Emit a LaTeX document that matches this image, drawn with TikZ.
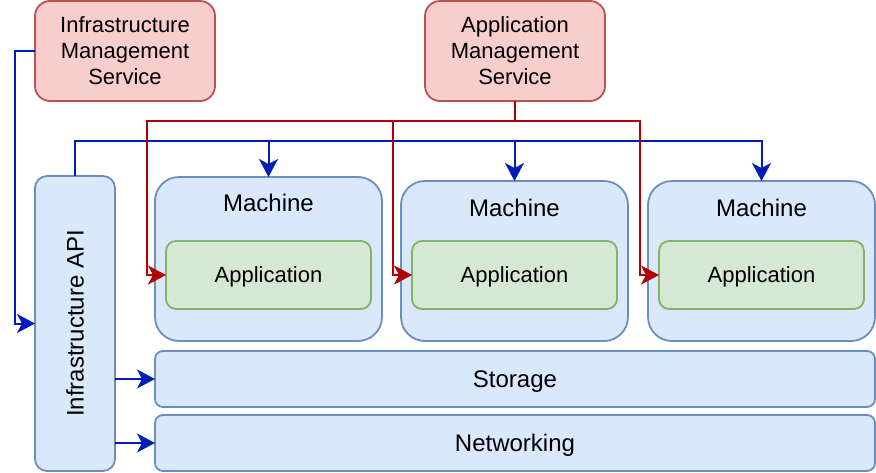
\documentclass[tikz,border=0pt]{standalone}
\usepackage{fontspec}
\setmainfont{Liberation Sans}
\usetikzlibrary{arrows.meta,calc}
\definecolor{bfill}{HTML}{DAE8FC}
\definecolor{bline}{HTML}{6C8EBF}
\definecolor{gfill}{HTML}{D5E8D4}
\definecolor{gline}{HTML}{82B366}
\definecolor{rfill}{HTML}{F8CECC}
\definecolor{rline}{HTML}{B85450}
\definecolor{barr}{HTML}{001DBC}
\definecolor{rarr}{HTML}{B20000}
\tikzset{
  base/.style={rectangle, line width=1.8pt, outer sep=0pt, inner sep=0pt, align=center, text=black},
  mgmt/.style={base, draw=rline, fill=rfill, rounded corners=15pt, minimum width=180pt, minimum height=100pt, font=\fontsize{22}{26}\selectfont},
  machinebox/.style={base, draw=bline, fill=bfill, rounded corners=24pt, minimum width=227pt},
  appbox/.style={base, draw=gline, fill=gfill, rounded corners=10pt, minimum width=205pt, minimum height=68pt, font=\fontsize{22}{26}\selectfont, text height=19.9pt, text depth=4.66pt},
  widebox/.style={base, draw=bline, fill=bfill, rounded corners=8pt, minimum width=720pt, minimum height=56pt, font=\fontsize{24}{28}\selectfont, text height=21.7pt, text depth=5.1pt},
  bigtext/.style={inner sep=0pt, font=\fontsize{24}{28}\selectfont, text=black},
  bluearr/.style={draw=barr, line width=2pt, -{Stealth[length=18pt,width=19pt,inset=5pt]}},
  redarr/.style={draw=rarr, line width=2pt, -{Stealth[length=18pt,width=19pt,inset=5pt]}},
}
\begin{document}
\begin{tikzpicture}[x=1pt,y=-1pt]
\useasboundingbox (0,0) rectangle (876,472);
% management services
\node[mgmt] (ims) at (125,51) {Infrastructure\\Management\\Service};
\node[mgmt] (ams) at (515,51) {Application\\Management\\Service};
% infrastructure API
\node[base, draw=bline, fill=bfill, rounded corners=12pt, minimum width=80pt, minimum height=295pt] (api) at (75,323.5) {};
\node[bigtext, rotate=90] (apit) at (api.center) {Infrastructure API};
% machines
\node[machinebox, minimum height=164pt] (m1) at (268.5,259) {};
\node[machinebox, minimum height=160pt] (m2) at (514.5,261) {};
\node[machinebox, minimum height=160pt] (m3) at (761.5,261) {};
\node[bigtext] (m1t) at ([yshift=-26pt]m1.north) {Machine};
\node[bigtext] (m2t) at ([yshift=-27pt]m2.north) {Machine};
\node[bigtext] (m3t) at ([yshift=-27pt]m3.north) {Machine};
% applications
\node[appbox] (a1) at (268.5,275) {Application};
\node[appbox] (a2) at (514.5,275) {Application};
\node[appbox] (a3) at (761.5,275) {Application};
% storage / networking
\node[widebox] (st) at (515,379) {Storage};
\node[widebox] (nw) at (515,443) {Networking};
% blue connectors
\draw[bluearr] (ims.west) -- ++(-20,0) |- (api.west);
\draw[bluearr] (api.north) -- ++(0,-35) -| (m1.north);
\draw[bluearr] (api.north) -- ++(0,-35) -| (m2.north);
\draw[bluearr] (api.north) -- ++(0,-35) -| (m3.north);
\draw[bluearr] (api.east |- st.west) -- (st.west);
\draw[bluearr] (api.east |- nw.west) -- (nw.west);
% red connectors
\draw[redarr] (ams.south) -- ++(0,20) -| ($(a1.west)+(-19.5,0)$) -- (a1.west);
\draw[redarr] (ams.south) -- ++(0,20) -| ($(a2.west)+(-19.5,0)$) -- (a2.west);
\draw[redarr] (ams.south) -- ++(0,20) -| ($(a3.west)+(-19.5,0)$) -- (a3.west);
\end{tikzpicture}
\end{document}
